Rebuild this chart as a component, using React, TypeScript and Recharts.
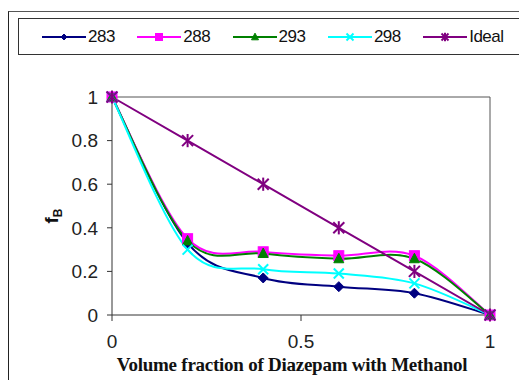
import React from 'react';
import { LineChart, Line, XAxis, YAxis, ReferenceLine } from 'recharts';

const xValues = [0, 0.2, 0.4, 0.6, 0.8, 1];
const s283 = [1, 0.33, 0.17, 0.13, 0.1, 0];
const s288 = [1, 0.35, 0.29, 0.272, 0.272, 0];
const s293 = [1, 0.34, 0.282, 0.258, 0.258, 0];
const s298 = [1, 0.3, 0.21, 0.19, 0.145, 0];
const sIdeal = [1, 0.8, 0.6, 0.4, 0.2, 0];
const xTicks = [0, 0.5, 1];
const yTicks = [0, 0.2, 0.4, 0.6, 0.8, 1];

type Shape = 'diamond' | 'square' | 'triangle' | 'x' | 'star';

const series: { key: string; name: string; color: string; shape: Shape; values: number[]; smooth: boolean }[] = [
  { key: 's283', name: '283', color: '#000080', shape: 'diamond', values: s283, smooth: true },
  { key: 's288', name: '288', color: '#FF00FF', shape: 'square', values: s288, smooth: true },
  { key: 's293', name: '293', color: '#008000', shape: 'triangle', values: s293, smooth: true },
  { key: 's298', name: '298', color: '#00FFFF', shape: 'x', values: s298, smooth: true },
  { key: 'ideal', name: 'Ideal', color: '#800080', shape: 'star', values: sIdeal, smooth: false },
];

const data = xValues.map((x, i) => {
  const row: Record<string, number> = { x };
  series.forEach((s) => {
    row[s.key] = s.values[i];
  });
  return row;
});

// Excel-like smoothing (uniform Catmull-Rom)
function catmullRom(context: any) {
  let pts: [number, number][] = [];
  return {
    areaStart() {},
    areaEnd() {},
    lineStart() {
      pts = [];
    },
    point(x: number, y: number) {
      pts.push([+x, +y]);
    },
    lineEnd() {
      const n = pts.length;
      if (!n) return;
      context.moveTo(pts[0][0], pts[0][1]);
      for (let i = 0; i < n - 1; i++) {
        const p0 = pts[i - 1] || pts[i];
        const p1 = pts[i];
        const p2 = pts[i + 1];
        const p3 = pts[i + 2] || pts[i + 1];
        context.bezierCurveTo(
          p1[0] + (p2[0] - p0[0]) / 6,
          p1[1] + (p2[1] - p0[1]) / 6,
          p2[0] - (p3[0] - p1[0]) / 6,
          p2[1] - (p3[1] - p1[1]) / 6,
          p2[0],
          p2[1]
        );
      }
    },
  };
}

function Marker({ shape, cx, cy, s, color }: { shape: Shape; cx: number; cy: number; s: number; color: string }) {
  if (shape === 'diamond') {
    return <polygon points={`${cx},${cy - s} ${cx + s},${cy} ${cx},${cy + s} ${cx - s},${cy}`} fill={color} stroke={color} strokeWidth={1} />;
  }
  if (shape === 'square') {
    return <rect x={cx - s} y={cy - s} width={2 * s} height={2 * s} fill={color} stroke={color} strokeWidth={1} />;
  }
  if (shape === 'triangle') {
    return <polygon points={`${cx},${cy - s * 1.1} ${cx + s},${cy + s * 0.8} ${cx - s},${cy + s * 0.8}`} fill={color} stroke={color} strokeWidth={1} />;
  }
  if (shape === 'x') {
    return (
      <g stroke={color} strokeWidth={2}>
        <line x1={cx - s} y1={cy - s} x2={cx + s} y2={cy + s} />
        <line x1={cx - s} y1={cy + s} x2={cx + s} y2={cy - s} />
      </g>
    );
  }
  return (
    <g stroke={color} strokeWidth={2}>
      <line x1={cx - s} y1={cy - s} x2={cx + s} y2={cy + s} />
      <line x1={cx - s} y1={cy + s} x2={cx + s} y2={cy - s} />
      <line x1={cx} y1={cy - s * 1.2} x2={cx} y2={cy + s * 1.2} />
    </g>
  );
}

const tickFont = { fontFamily: 'Liberation Sans, Arial, sans-serif', fontSize: 19, fill: '#222' };

export default function App() {
  return (
    <div style={{ position: 'relative', width: 519, height: 380, marginBottom: -8, overflow: 'hidden', background: '#fff' }}>
      <div
        style={{
          position: 'absolute',
          left: 0,
          top: 3,
          width: 560,
          height: 420,
          borderLeft: '1px solid #222',
          borderTop: '1px solid #555',
          boxSizing: 'border-box',
        }}
      />
      <div
        style={{
          position: 'absolute',
          left: 10,
          top: 10,
          width: 508,
          height: 37,
          border: '1px solid #333',
          boxSizing: 'border-box',
          fontFamily: 'Liberation Sans, Arial, sans-serif',
          fontSize: 17,
          color: '#111',
        }}
      >
        {series.map((s, i) => (
          <div key={s.key} style={{ position: 'absolute', left: 23 + i * 95.3, top: 0, height: 35, display: 'flex', alignItems: 'center' }}>
            <svg width={45} height={16} style={{ display: 'block' }}>
              <line x1={0} y1={8} x2={44} y2={8} stroke={s.color} strokeWidth={2} />
              <Marker shape={s.shape} cx={22} cy={8} s={s.shape === 'diamond' ? 3 : 3.5} color={s.color} />
            </svg>
            <span style={{ marginLeft: 1, letterSpacing: -0.5 }}>{s.name}</span>
          </div>
        ))}
      </div>
      <div style={{ position: 'absolute', left: 0, top: 0 }}>
        <LineChart width={519} height={380} data={data} margin={{ top: 89, right: 37, bottom: 0, left: 0 }}>
          <XAxis
            dataKey="x"
            type="number"
            domain={[0, 1]}
            ticks={xTicks}
            tickFormatter={(v: number) => String(v)}
            height={73}
            tickSize={6}
            tickMargin={14}
            stroke="#333"
            tick={tickFont}
            axisLine={{ stroke: '#333', strokeWidth: 1 }}
            tickLine={{ stroke: '#333' }}
            label={{
              content: (props: any) => {
                const vb = props.viewBox || { x: 104, y: 307, width: 378 };
                return (
                  <text
                    x={vb.x + vb.width / 2 - 9}
                    y={vb.y + 56}
                    textAnchor="middle"
                    fontFamily="Liberation Serif, Times New Roman, serif"
                    fontWeight="bold"
                    fontSize={19}
                    letterSpacing={-0.25}
                    fill="#111"
                  >
                    Volume fraction of Diazepam with Methanol
                  </text>
                );
              },
            }}
          />
          <YAxis
            type="number"
            domain={[0, 1]}
            ticks={yTicks}
            tickFormatter={(v: number) => String(v)}
            width={104}
            tickSize={5}
            tickMargin={9}
            tick={tickFont}
            axisLine={{ stroke: '#333', strokeWidth: 1 }}
            tickLine={{ stroke: '#333' }}
            label={{
              content: (props: any) => {
                const vb = props.viewBox || { x: 0, y: 89, width: 104, height: 218 };
                const cx = 50;
                const cy = vb.y + vb.height / 2 + 10;
                return (
                  <text
                    transform={`translate(${cx},${cy}) rotate(-90)`}
                    textAnchor="middle"
                    fontFamily="Liberation Sans, Arial, sans-serif"
                    fontWeight="bold"
                    fontSize={19}
                    fill="#111"
                  >
                    f<tspan fontSize={12} dy={4}>B</tspan>
                  </text>
                );
              },
            }}
          />
          <ReferenceLine y={1} stroke="#555" strokeWidth={1} ifOverflow="extendDomain" />
          <ReferenceLine x={1} stroke="#555" strokeWidth={1} ifOverflow="extendDomain" />
          {series.map((s) => (
            <Line
              key={s.key}
              dataKey={s.key}
              name={s.name}
              type={s.smooth ? (catmullRom as any) : 'linear'}
              stroke={s.color}
              strokeWidth={2}
              isAnimationActive={false}
              dot={(p: any) => (
                <Marker key={`${s.key}-${p.index}`} shape={s.shape} cx={p.cx} cy={p.cy} s={s.shape === 'star' ? 5.5 : 5} color={s.color} />
              )}
              activeDot={false}
            />
          ))}
        </LineChart>
      </div>
    </div>
  );
}
